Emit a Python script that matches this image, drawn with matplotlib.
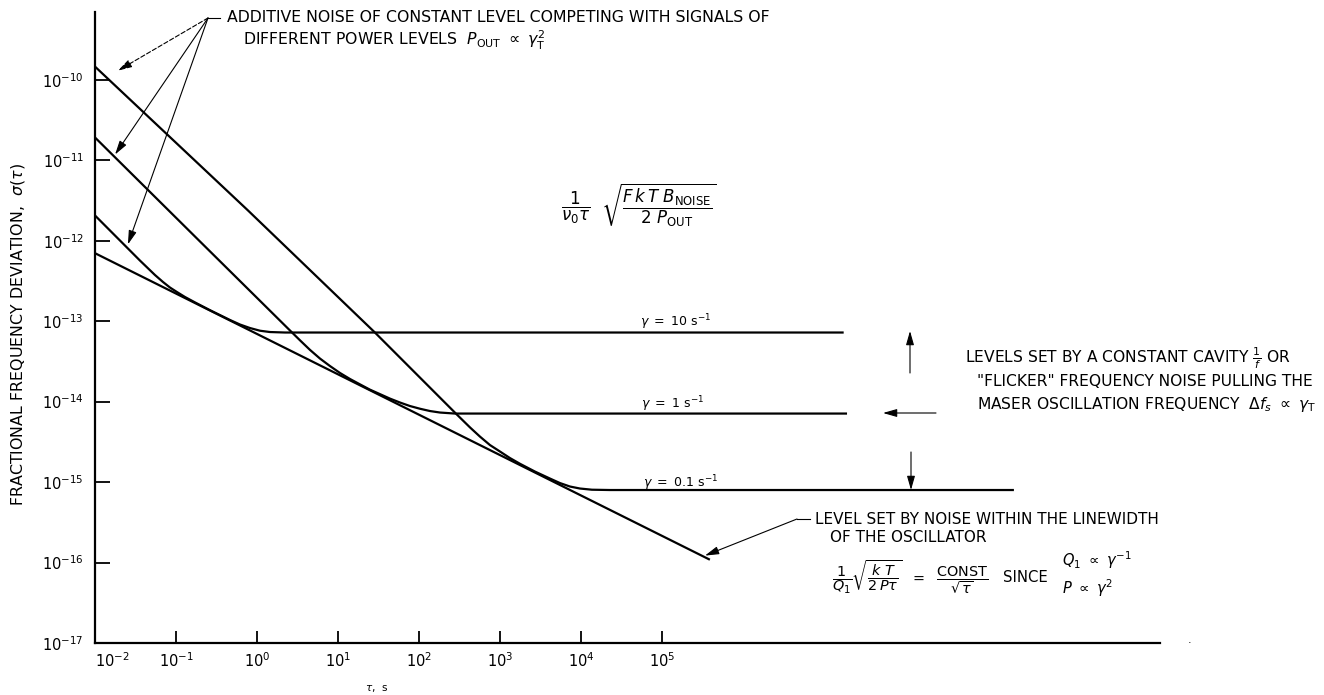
#!/usr/bin/python3
from matplotlib import pyplot as plt
from matplotlib.lines import Line2D

# values (tau in s, sigma = fractional frequency deviation)
tau_linewidth = [0.01, 3.8e5]
sig_linewidth = [7.0e-13, 1.1e-16]

tau_g10 = [0.01, 0.0359, 0.0550, 0.0691, 0.0843, 0.103, 0.129, 0.172, 0.263, 0.464,
           0.617, 0.820, 1.09, 1.45, 2.22, 1.7e7]
sig_g10 = [2.06e-12, 5.67e-13, 3.75e-13, 3.07e-13, 2.62e-13, 2.30e-13, 2.00e-13,
           1.71e-13, 1.37e-13, 1.035e-13, 9.09e-14, 8.22e-14, 7.61e-14, 7.33e-14,
           7.23e-14, 7.23e-14]

tau_g1 = [0.01, 0.198, 2.56, 3.40, 4.51, 6.00, 7.97, 10.6, 14.1, 18.7, 24.8, 33.0,
          43.9, 58.3, 77.4, 103, 137, 182, 278, 1.87e7]
sig_g1 = [1.92e-11, 9.78e-13, 7.65e-14, 5.78e-14, 4.40e-14, 3.43e-14, 2.77e-14,
          2.27e-14, 1.91e-14, 1.64e-14, 1.41e-14, 1.24e-14, 1.09e-14, 9.75e-15,
          8.82e-15, 8.16e-15, 7.64e-15, 7.32e-15, 7.11e-15, 7.11e-15]

tau_g01 = [0.01, 0.774, 28.6, 294, 426, 566, 752, 1000, 1329, 1766, 2705, 4143,
           5505, 7315, 9720, 13670, 22800, 2.15e9]
sig_g01 = [1.46e-10, 2.38e-12, 7.23e-14, 6.91e-15, 4.79e-15, 3.68e-15, 2.89e-15,
           2.40e-15, 1.99e-15, 1.69e-15, 1.352e-15, 1.107e-15, 9.73e-16, 8.81e-16,
           8.32e-16, 8.04e-16, 7.97e-16, 7.97e-16]

x_ticks = [1e-2, 1e-1, 1e0, 1e1, 1e2, 1e3, 1e4, 1e5]
y_ticks = [1e-17, 1e-16, 1e-15, 1e-14, 1e-13, 1e-12, 1e-11, 1e-10]

gamma_labels = [r"$\gamma\ =\ 10\ \mathrm{s}^{-1}$",
                r"$\gamma\ =\ 1\ \mathrm{s}^{-1}$",
                r"$\gamma\ =\ 0.1\ \mathrm{s}^{-1}$"]

# where the additive-noise arrows land on the three steep lines, and the linewidth line end
additive_tips = [(0.0192, 1.3e-10), (0.0177, 1.18e-11), (0.0255, 9.0e-13)]
linewidth_tip = (3.4e5, 1.22e-16)

W, H = 1324, 695
ARROW = dict(arrowstyle='-|>,head_length=0.7,head_width=0.2', lw=0.8,
             color='black', shrinkA=0, shrinkB=0, mutation_scale=12)


def fpos(x, y):
    # image pixels (top-left origin) -> figure fraction
    return x / W, 1 - y / H


def seg(fig, p1, p2, lw=0.8):
    (x1, y1), (x2, y2) = fpos(*p1), fpos(*p2)
    fig.add_artist(Line2D([x1, x2], [y1, y2], transform=fig.transFigure,
                          color='black', lw=lw))


def note(fig, x, y, s, size=11.2, ha='left', **kw):
    fig.text(*fpos(x, y), s, ha=ha, va='center', fontsize=size, **kw)


def main():
    plt.rcParams['font.family'] = ['DejaVu Sans']
    plt.rcParams['mathtext.fontset'] = 'dejavusans'

    fig = plt.figure(figsize=(W / 100, H / 100), dpi=100)
    l, b = fpos(95, 643)
    r, t = fpos(1160, 12)
    ax = fig.add_axes([l, b, r - l, t - b])

    lw = 1.6
    ax.loglog(tau_linewidth, sig_linewidth, color='black', lw=lw)
    ax.loglog(tau_g10, sig_g10, color='black', lw=lw)
    ax.loglog(tau_g1, sig_g1, color='black', lw=lw)
    ax.loglog(tau_g01, sig_g01, color='black', lw=lw)

    ax.set_xlim(1e-2, 10 ** 11.15)
    ax.set_ylim(1e-17, 10 ** -9.157)

    for s in ['top', 'right']:
        ax.spines[s].set_visible(False)
    for s in ['left', 'bottom']:
        ax.spines[s].set_linewidth(1.6)

    ax.set_xticks(x_ticks)
    ax.set_yticks(y_ticks)
    ax.minorticks_off()
    ax.tick_params(axis='y', direction='in', length=11, width=1.3, pad=8, labelsize=10.5)
    ax.tick_params(axis='x', direction='in', length=9, width=1.3, pad=6, labelsize=10.5)
    ax.get_xticklabels()[0].set_horizontalalignment('left')

    # axis titles
    note(fig, 18, 335, r"FRACTIONAL FREQUENCY DEVIATION,  $\sigma(\tau)$",
         size=11.4, ha='center', rotation=90)
    note(fig, 377, 688, r"$\tau$,  s", size=7.5, ha='center')

    # additive noise annotation
    note(fig, 227, 18, "ADDITIVE NOISE OF CONSTANT LEVEL COMPETING WITH SIGNALS OF", size=11.3)
    note(fig, 243, 40,
         r"DIFFERENT POWER LEVELS  $P_{\mathrm{OUT}}\ \propto\ \gamma^{2}_{\mathrm{T}}$",
         size=11.3)
    seg(fig, (208, 18), (220, 18))
    for i, tip in enumerate(additive_tips):
        props = dict(ARROW, linestyle=(0, (4, 2)) if i == 0 else '-')
        ax.annotate('', xy=tip, xycoords='data', xytext=fpos(208, 18),
                    textcoords='figure fraction', annotation_clip=False,
                    arrowprops=props)

    note(fig, 639, 205,
         r"$\dfrac{1}{\nu_0\tau}\ \ \sqrt{\dfrac{F\,k\,T\ B_{\mathrm{NOISE}}}{2\ P_{\mathrm{OUT}}}}$",
         size=12, ha='center')

    # gamma labels above the plateaus
    for lab, pos in zip(gamma_labels, [(676, 322), (673, 404), (681, 483)]):
        note(fig, pos[0], pos[1], lab, size=9, ha='center')

    # flicker level arrows and note
    for start, end in [((910, 373), (910, 331)), ((936, 413), (883, 413)),
                       ((911, 452), (911, 490))]:
        ax.annotate('', xy=fpos(*end), xycoords='figure fraction',
                    xytext=fpos(*start), textcoords='figure fraction',
                    annotation_clip=False, arrowprops=ARROW)
    note(fig, 965, 358, r"LEVELS SET BY A CONSTANT CAVITY $\frac{1}{f}$ OR")
    note(fig, 977, 382, '"FLICKER" FREQUENCY NOISE PULLING THE')
    note(fig, 977, 405,
         r"MASER OSCILLATION FREQUENCY  $\Delta f_{s}\ \propto\ \gamma_{\mathrm{T}}$")

    # linewidth note
    seg(fig, (797, 519), (810, 519))
    ax.annotate('', xy=linewidth_tip, xycoords='data', xytext=fpos(797, 519),
                textcoords='figure fraction', annotation_clip=False, arrowprops=ARROW)
    note(fig, 815, 520, "LEVEL SET BY NOISE WITHIN THE LINEWIDTH", size=11)
    note(fig, 830, 537, "OF THE OSCILLATOR", size=11)
    note(fig, 832, 577,
         r"$\dfrac{1}{Q_1}\sqrt{\dfrac{k\ T}{2\,P\tau}}\ \ =\ \ \dfrac{\mathrm{CONST}}{\sqrt{\tau}}$",
         size=10.4)
    note(fig, 1003, 577, "SINCE", size=10.7)
    note(fig, 1062, 560, r"$Q_1\ \propto\ \gamma^{-1}$", size=10.5)
    note(fig, 1062, 588, r"$P\ \propto\ \gamma^{2}$", size=10.5)
    note(fig, 1190, 640, ".", size=8, ha='center')

    fig.savefig('out.png', dpi=100)


if __name__ == '__main__':
    main()
